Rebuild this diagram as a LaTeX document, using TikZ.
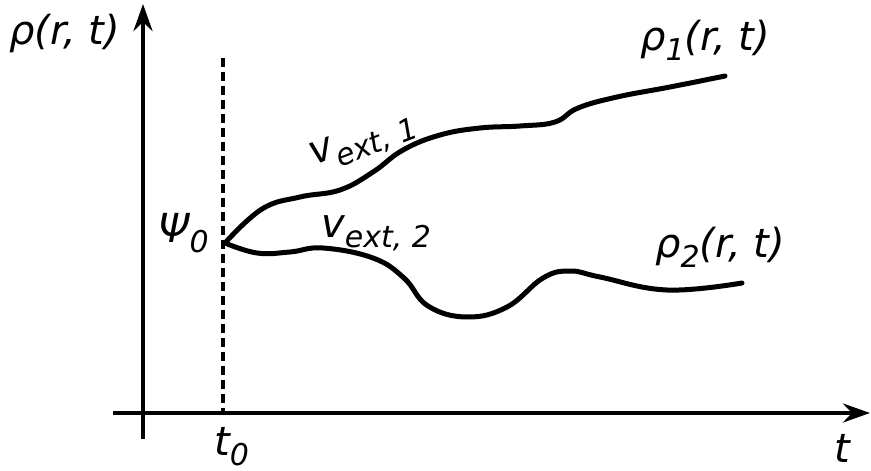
\documentclass[tikz,border=0pt]{standalone}
\usepackage{fontspec}
\setmainfont{DejaVu Sans}
\usetikzlibrary{arrows.meta}
\newcommand{\sbx}[1]{\raisebox{-0.26em}{\fontsize{30}{32}\selectfont #1}}
\tikzset{
  lbl/.style={font=\fontsize{40}{43}\selectfont\itshape, inner sep=0pt},
  axis/.style={line width=4.2pt, -{Stealth[length=27pt,width=19pt,inset=9pt]}},
  curve/.style={line width=5pt, line cap=round, line join=round},
  guide/.style={line width=4.4pt, dash pattern=on 9pt off 5pt}
}
\begin{document}
\begin{tikzpicture}[x=1pt,y=-1pt]
\useasboundingbox (0,0) rectangle (871,471);
% axes
\coordinate (xs) at (113,413);
\coordinate (xe) at (870,413);
\coordinate (ys) at (143,439);
\coordinate (ye) at (143,4);
\draw[axis] (xs) -- (xe);
\draw[axis] (ys) -- (ye);
% dashed line
\coordinate (ds) at (223,58);
\coordinate (de) at (223,413);
\draw[guide] (ds) -- (de);
% branch point
\coordinate (b) at (225,243);
% upper curve
\draw[curve] plot[smooth, tension=0.7] coordinates {(225,243) (262,209) (300,197) (340,190) (373,172) (403,150) (440,135) (480,128) (520,126) (555,122) (578,108) (617,97) (670,87) (725,76)};
% lower curve
\draw[curve] plot[smooth, tension=0.7] coordinates {(225,243) (257,253) (290,252) (323,248) (373,258) (404,278) (428,306) (467,317) (507,307) (543,278) (570,271) (600,277) (667,290) (742,283)};
% labels
\node[lbl, anchor=base west] (rho) at (9,45) {ρ(r, t)};
\node[lbl, anchor=base west] (rho1) at (640,50) {ρ\sbx{1}(r, t)};
\node[lbl, anchor=base west] (rho2) at (655,257) {ρ\sbx{2}(r, t)};
\node[lbl, anchor=base west] (psi) at (158,242) {Ψ\sbx{0}};
\node[lbl, anchor=base west] (t0) at (214,455) {t\sbx{0}};
\node[lbl, anchor=base west] (t) at (834,462) {t};
\node[lbl, anchor=base west, rotate=21] (v1) at (314,166) {v\sbx{ext, 1}};
\node[lbl, anchor=base west] (v2) at (321,237) {v\sbx{ext, 2}};
\end{tikzpicture}
\end{document}
